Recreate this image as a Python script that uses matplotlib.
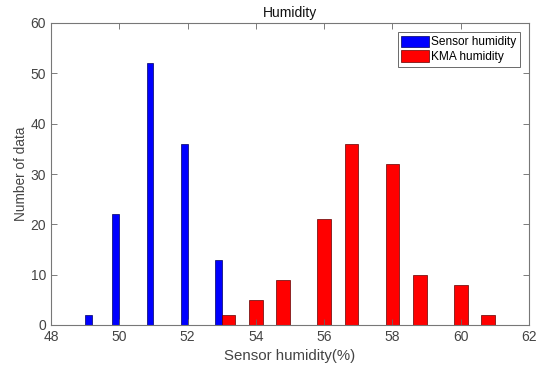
import matplotlib
matplotlib.use("Agg")
import matplotlib.pyplot as plt

plt.rcParams['font.family'] = ['Liberation Sans', 'DejaVu Sans']

sensor_x = [49.1, 49.9, 50.9, 51.9, 52.9]
sensor_counts = [2, 22, 52, 36, 13]
kma_x = [53.2, 54.0, 54.8, 56.0, 56.8, 58.0, 58.8, 60.0, 60.8]
kma_counts = [2, 5, 9, 21, 36, 32, 10, 8, 2]
xticks = [48, 50, 52, 54, 56, 58, 60, 62]
yticks = [0, 10, 20, 30, 40, 50, 60]

fig = plt.figure(figsize=(5.37, 3.65), dpi=100)
ax = fig.add_axes([51/537, 1-325/365, (529-51)/537, (325-23)/365])

ax.bar(sensor_x, sensor_counts, width=0.2, color='#0000ff', edgecolor='#000060',
       linewidth=0.5, label='Sensor humidity')
ax.bar(kma_x, kma_counts, width=0.4, color='#ff0000', edgecolor='#600000',
       linewidth=0.5, label='KMA humidity')

ax.set_xlim(48, 62)
ax.set_ylim(0, 60)
ax.set_xticks(xticks)
ax.set_yticks(yticks)
ax.tick_params(direction='in', top=True, right=True, length=4, width=0.6,
               labelsize=10, colors='#666666', labelcolor='#444444')
for s in ax.spines.values():
    s.set_color('#777777')
    s.set_linewidth(0.8)

ax.set_title('Humidity', fontsize=10, color='#111111', pad=4)
ax.set_xlabel('Sensor humidity(%)', fontsize=10.8, color='#444444', labelpad=4)
ax.set_ylabel('Number of data', fontsize=9.8, color='#444444', labelpad=1.5)

leg = ax.legend(loc='upper right', fontsize=8.6, frameon=True, fancybox=False,
                edgecolor='#444444', borderpad=0.3, labelspacing=0.15,
                handlelength=2.3, handleheight=1.1, handletextpad=0.2,
                borderaxespad=0.75)
leg.get_frame().set_linewidth(0.7)

fig.savefig('out.png', dpi=100)
